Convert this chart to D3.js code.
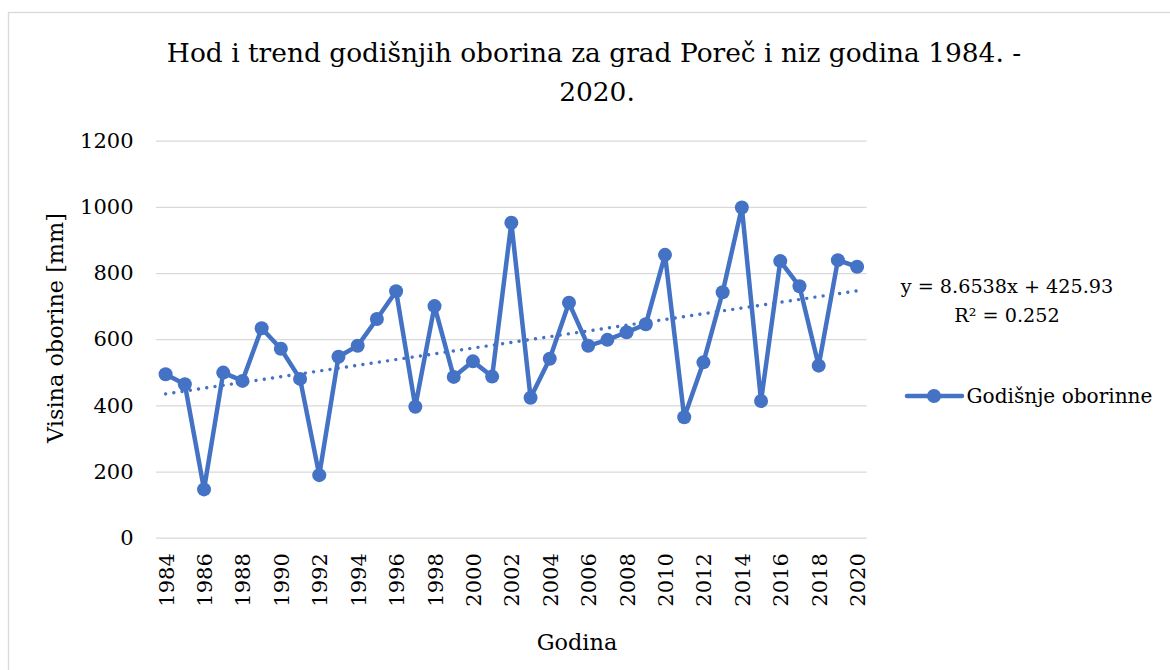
<!DOCTYPE html>
<html><head><meta charset="utf-8">
<script src="https://cdn.jsdelivr.net/npm/d3@7"></script>
<style>
html,body{margin:0;padding:0;background:#fff;}
svg{display:block;}
text{font-family:"DejaVu Serif","Liberation Serif",serif;fill:#000;}
</style></head>
<body>
<svg id="chart" width="1170" height="670"></svg>
<script>
const years = d3.range(1984, 2021);
const precipitation = [494,464,146,499,474,633,571,480,189,547,580,661,745,396,700,486,533,487,952,423,541,710,580,598,621,645,855,364,530,742,998,413,836,760,520,839,819];
const yTicks = [0,200,400,600,800,1000,1200];
const xTickLabels = years.filter(y => (y - 1984) % 2 === 0);
const trendSlope = 8.6538, trendIntercept = 425.93;
const titleLines = ["Hod i trend godišnjih oborina za grad Poreč i niz godina 1984. -", "2020."];
const seriesName = "Godišnje oborinne";
const yTitle = "Visina oborine [mm]";
const xTitle = "Godina";
const trendLabel = ["y = 8.6538x + 425.93", "R² = 0.252"];

const blue = "#4472C4";
const svg = d3.select("#chart");

// size a text so that its width matches the reference width
function fit(sel, base, width) {
  sel.attr("font-size", base);
  const w = sel.node().getComputedTextLength();
  const fs = base * width / w;
  sel.attr("font-size", fs);
  return fs;
}

svg.append("rect").attr("x",8.5).attr("y",12.5).attr("width",1200).attr("height",700)
  .attr("fill","#fff").attr("stroke","#d9d9d9").attr("stroke-width",1.3);

const pLeft = 156, pRight = 866.7, pTop = 140.7, pBottom = 537.7;
const x = d3.scaleBand().domain(years).range([pLeft, pRight]);
const cx = d => x(d) + x.bandwidth()/2;
const y = d3.scaleLinear().domain([0,1200]).range([pBottom, pTop]);

const tickFs = 21;

const yAxis = d3.axisLeft(y).tickValues(yTicks).tickFormat(d3.format("d"))
  .tickSize(-(pRight-pLeft)).tickPadding(22.5);
const gy = svg.append("g").attr("transform",`translate(${pLeft},0)`).call(yAxis);
gy.select(".domain").remove();
gy.selectAll(".tick line").attr("stroke","#d9d9d9").attr("stroke-width",1.3);
gy.selectAll(".tick text").attr("font-size",tickFs).attr("font-family",null).attr("fill","#000");

const xAxis = d3.axisBottom(x).tickValues(xTickLabels).tickFormat(d3.format("d")).tickSize(0).tickPadding(0);
const gx = svg.append("g").attr("transform",`translate(0,${pBottom})`).call(xAxis);
gx.select(".domain").remove();
gx.selectAll(".tick text")
  .attr("font-size",tickFs).attr("font-family",null).attr("fill","#000")
  .attr("text-anchor","end").attr("dy",null)
  .attr("transform","translate(8,15.5) rotate(-90)");

const n = years.length;
const trend = [1, n].map(i => ({yr: years[i-1], v: trendSlope*i + trendIntercept}));
svg.append("path").datum(trend)
  .attr("d", d3.line().x(d => cx(d.yr)).y(d => y(d.v)))
  .attr("fill","none").attr("stroke",blue).attr("stroke-width",3.4)
  .attr("stroke-linecap","round").attr("stroke-dasharray","0.01 8.3");

const data = years.map((yr,i) => ({yr, v: precipitation[i]}));
svg.append("path").datum(data)
  .attr("d", d3.line().x(d => cx(d.yr)).y(d => y(d.v)))
  .attr("fill","none").attr("stroke",blue).attr("stroke-width",4.5)
  .attr("stroke-linejoin","round");
svg.append("g").selectAll("circle").data(data).join("circle")
  .attr("cx", d => cx(d.yr)).attr("cy", d => y(d.v)).attr("r",7).attr("fill",blue);

// title
const t1 = svg.append("text").attr("x",594).attr("y",61.5).attr("text-anchor","middle").text(titleLines[0]);
const titleFs = fit(t1, 24, 855);
svg.append("text").attr("x",597).attr("y",101).attr("text-anchor","middle")
  .attr("font-size",titleFs).text(titleLines[1]);

// axis titles
const yt = svg.append("text").attr("transform","translate(63,328) rotate(-90)").attr("text-anchor","middle").text(yTitle);
const axFs = fit(yt, 20, 230);
svg.append("text").attr("x",577).attr("y",650).attr("text-anchor","middle")
  .attr("font-size",axFs).text(xTitle);

// trend equation
const e1 = svg.append("text").attr("x",1007).attr("y",293).attr("text-anchor","middle").text(trendLabel[0]);
const eqFs = fit(e1, 20, 212.6);
svg.append("text").attr("x",1007).attr("y",321.5).attr("text-anchor","middle")
  .attr("font-size",eqFs).text(trendLabel[1]);

// legend
const lg = svg.append("g");
lg.append("line").attr("x1",907).attr("x2",962).attr("y1",396).attr("y2",396)
  .attr("stroke",blue).attr("stroke-width",4.5).attr("stroke-linecap","round");
lg.append("circle").attr("cx",934).attr("cy",396).attr("r",7).attr("fill",blue);
const lt = lg.append("text").attr("x",966.5).attr("y",403).text(seriesName);
fit(lt, 20, 186);
</script>
</body></html>
